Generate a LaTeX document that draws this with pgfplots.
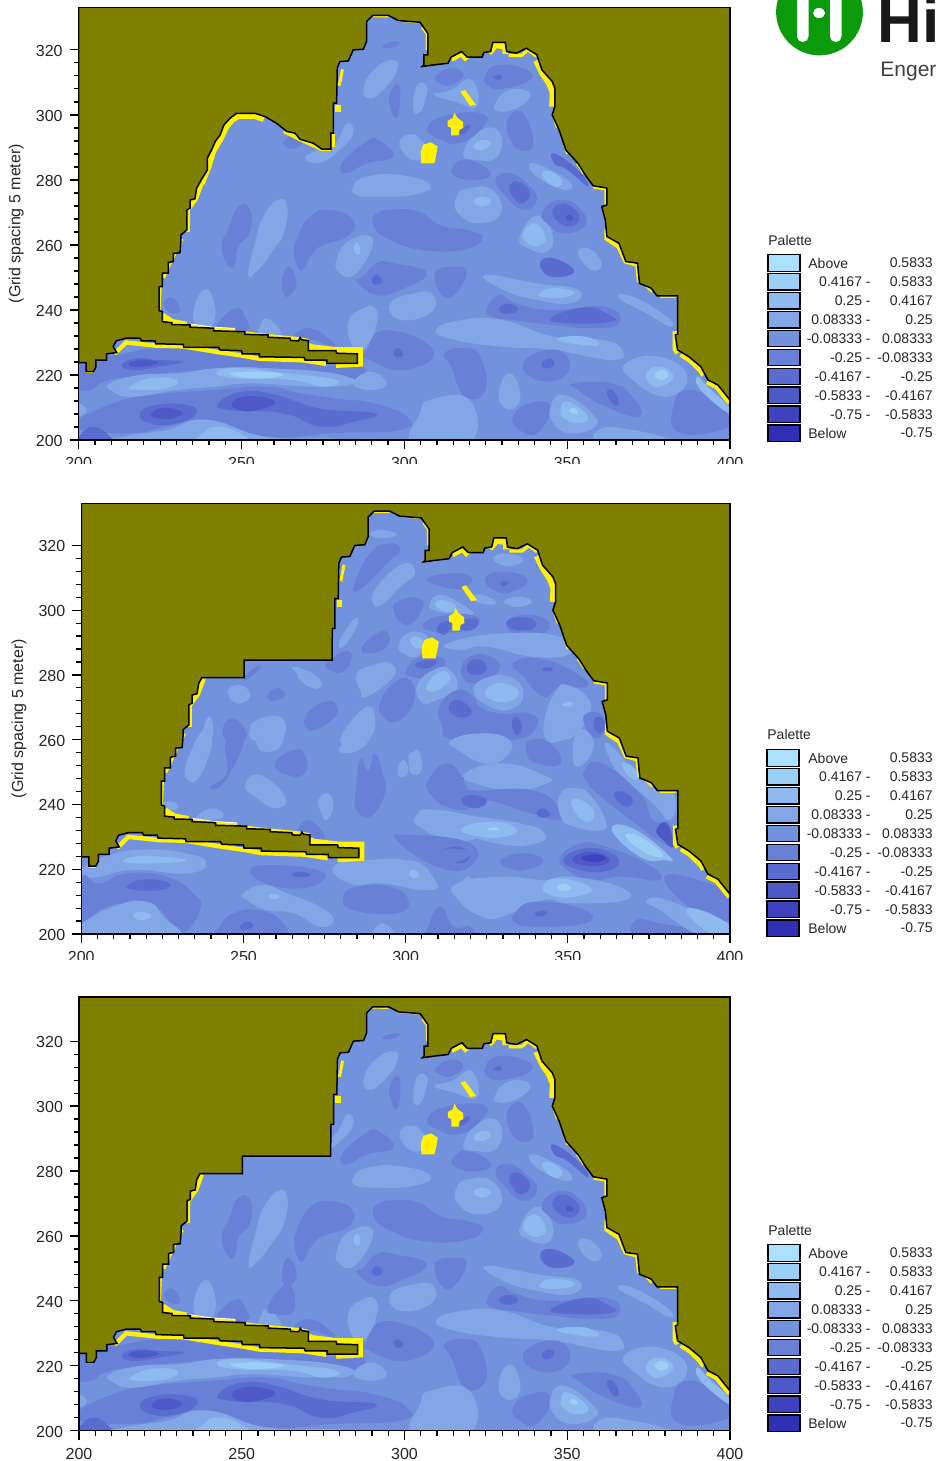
\documentclass[border=0pt]{standalone}
\usepackage{fontspec}
\setmainfont{Liberation Sans}
\usepackage{pgfplots}
\pgfplotsset{compat=1.18}

\definecolor{c0}{HTML}{ABE0FF}
\definecolor{c1}{HTML}{9CCFF6}
\definecolor{c2}{HTML}{8FBAF0}
\definecolor{c3}{HTML}{83A6E6}
\definecolor{c4}{HTML}{7392DE}
\definecolor{c5}{HTML}{6880D6}
\definecolor{c6}{HTML}{5A6CCF}
\definecolor{c7}{HTML}{4E59C8}
\definecolor{c8}{HTML}{3F42BE}
\definecolor{c9}{HTML}{3030B4}
\definecolor{land}{HTML}{808000}
\definecolor{logogreen}{HTML}{0A9A0A}

\newcommand{\blob}[2]{\addplot[draw=none,fill=#1,smooth cycle,tension=0.85,forget plot] coordinates {#2};}
\newcommand{\spot}[1]{\addplot[draw=none,fill=yellow,forget plot] coordinates {#1};}
\newcommand{\ylw}[2]{\addplot[yellow,line width=#1pt,forget plot] coordinates {#2};}

% coast line, the argument is the north-west stretch that differs between panels
\newcommand{\coast}[1]{\addplot[fill=land,draw=black,line width=0.75pt,forget plot] coordinates {
 (200,223.8)(202.3,223.8)(202.3,221)(204.5,221)(205.3,222.5)(205.3,224.6)(208.6,224.6)(208.6,226.5)(211.7,226.9)(210.6,228.7)(211.5,230.5)(214.5,231.3)(218.8,231.3)(219.3,230.5)(223.4,230.5)(223.7,229.6)(232.1,229.4)(232.3,228.5)(242.9,228.5)(243.4,227.7)(250,227.5)(250.2,226.5)(255.5,226.5)(255.5,225.6)(269.2,225.4)(269.5,224.6)(276.2,224.6)(276.2,223.6)(285.6,223.6)(285.6,226.5)(279.2,226.7)(279,227.5)(270.5,227.5)(270.5,230.6)(268.5,230.8)(268,231.5)(267.5,230.5)(265.1,230.6)(264.9,231.3)(258.2,231.6)(258.2,232.3)(251,232.5)(251,233.3)(241.4,233.6)(241.4,234.4)(234.2,234.7)(234.2,235.4)(228.6,235.5)(228.6,236.1)(225.7,236.4)(225.7,239.5)(224.7,239.8)(224.7,247.2)(225.7,247.2)(225.7,251.3)(227.5,251.3)(227.5,254.6)(229.1,254.9)(229.1,257.4)(231.1,257.6)(231.4,261.5)(231.4,263.1)(233.2,264.6)(233.2,270.8)(234.2,271.3)(234.2,273.8)(235.7,274.2)(236.2,277.4)
 #1
 (277.4,294.4)(278.2,294.4)(278.2,303.6)(279.2,303.6)(279.4,314.4)(280.2,316.4)(282.8,316.6)(284.3,320)(287.4,320.2)(288.4,322.6)(288.4,328.7)(290.3,330.6)(295.1,330.6)(298.2,329)(304.8,328.5)(307.2,325.1)(307.2,318.5)(306,318.5)(306,315.4)(305.5,314.9)(309.2,315.4)(313.4,315.9)(314.4,317.8)(317.6,319.5)(319.3,317.8)(323.9,317.8)(324.4,319.2)(326.5,319.5)(327.2,322.3)(331,322.3)(331.4,319.5)(334.4,319)(337.5,320.5)(340.7,318.5)(342.2,313.9)(345.4,310.3)(346.2,308.2)(346.2,302.6)(345.4,300)(347.5,295.4)(349.6,289.2)(353.3,285.1)(355.9,281)(358,278.2)(362.2,277.5)(362.2,272.3)(360.6,271.8)(361.7,267.7)(362.2,262.6)(365.9,260.5)(368,254.9)(371.6,254.4)(372.2,248.2)(375.8,246.7)(377.6,244.3)(383.9,244.3)(383.9,232.6)(383.2,232.3)(383.9,227.7)(387.4,225.6)(391,222.6)(393.2,218.5)(396.3,216.9)(400,212.3)
 (400,334)(200,334)(200,223.8)};}

\newcommand{\nwcurve}{(237.8,280.3)(239.5,283)(239.5,286.7)(240.8,289.2)(241.9,291.8)(243.4,293.8)(244.6,296.9)(246.5,299)(248.5,300.5)(254.1,300.5)(257.2,299.5)(260.8,297.4)(263.9,294.9)(266.4,294.4)(268,292.5)(272,291.3)(274.6,289.5)(277.4,289.5)}
\newcommand{\nwstep}{(237.2,279.2)(250.2,279.2)(250.2,284.6)(277.3,284.6)}

% yellow strips along the coast, half hidden by the land drawn afterwards
\newcommand{\yellowcommon}{
 \ylw{2.5}{(231.5,262)(229,257)(227.6,254)(225.8,250)}
 \ylw{1.5}{(225,247)(224.7,240)}
 \ylw{4}{(225.5,238)(228.6,236)(233,235.2)}
 \addplot[white,line width=2.8pt,forget plot] coordinates {(234,235)(241,234)(248,233.6)};
 \ylw{2}{(234.2,235)(241,234)(248,233.6)}
 \ylw{2}{(251,232.8)(258,232)(268,231)(270.5,230.5)}
 \ylw{3.4}{(270.5,229)(271.5,228.4)(279.2,227.5)(286.2,227.5)(286.2,223.6)(279,223.2)}
 \ylw{2.2}{(211,226.5)(214.5,230)(224,229)(232,228.8)(243,227)(250,226)(255.5,225)(269,224.5)(276,223.4)}
 \ylw{1.5}{(202.3,221)(204.5,221)}
 \ylw{3}{(233.2,264)(233.2,270.8)(235.7,274.2)(237.5,279)}
 \spot{(278.7,301)(280.4,301)(280.4,303.1)(278.7,303.1)}
 \ylw{1.5}{(281,314)(280,309)}
 \ylw{1.5}{(290,330.5)(295,330.4)}
 \ylw{1}{(298,329)(304,328.5)}
 \ylw{1.5}{(305.5,327)(307,325)(307,320)}
 \ylw{3}{(314.4,317.2)(317.6,319)(319.3,317)}
 \ylw{3}{(326,319)(328,321.5)(331,321)(331,318.8)}
 \ylw{1.6}{(332,318.3)(336,318.3)(338,320)(340.5,318)}
 \ylw{5}{(341,317)(343,313)(345,310)(346.2,307)(346,302.5)}
 \ylw{1.5}{(346,299)(347,296)}
 \ylw{1}{(349,291)(350,288)}
 \ylw{1}{(353,285)(355,282)}
 \ylw{2}{(358,278)(362,277.3)(362,272.5)}
 \ylw{2.5}{(362.2,265)(362.2,262)(365.9,259.5)(368,255)(371.6,254)(372.2,248.5)}
 \ylw{1}{(374,247.5)(376,245.5)}
 \ylw{1}{(378.5,244)(383.5,244)}
 \ylw{3}{(383.3,233.5)(383.3,228)(384,226.8)}
 \ylw{3}{(385,226.5)(388,224.5)(391,221.5)(392,220)}
 \ylw{3}{(393,218)(396,216.5)(400,211.5)}
 \spot{(317.2,307.2)(318.6,307.7)(322,303.1)(320.2,302.8)}
 \spot{(313.3,298.2)(314.8,299)(315.4,300.7)(316.2,299.2)(318,297.8)(318.1,296)(317,295.5)(316.6,293.7)(314.4,293.7)(314.4,296)(313.3,296.5)}
 \spot{(305,288.7)(305.8,290.8)(308.1,291.6)(310.2,290.3)(309.7,287.2)(309.2,285.1)(305.2,285.1)}
}
\newcommand{\yellownw}{
 \ylw{4}{(237.5,279)(239.5,284)(241,289)(243.4,293)(245,296.5)(247,298.8)(249,300)(254,300)(257,299)}
 \ylw{2}{(263,295)(268,292.5)(274.6,289.5)(277.4,289.5)}
 \ylw{2}{(278,290)(278,294)}
}

% contour bands of panels one and three
\newcommand{\bandsA}{
 \blob{c5}{(200,223.6)(211.7,226.2)(227,228.2)(247.5,226.7)(278.2,222.6)(287.4,222.6)(282.3,218.5)(257.7,222.1)(237.3,221.5)(216.8,219.5)(209.6,218.5)(200.4,215.4)}
 \blob{c5}{(200,220.5)(204.5,220)(205.5,216.4)(200.4,215.4)}
 \blob{c5}{(200,206.2)(210.6,211.3)(221.9,213.8)(241.4,215.4)(257.7,216.4)(268,214.4)(278.2,212.8)(290.5,211.3)(300.7,207.2)(298.7,203.1)(278.2,202.1)(257.7,201)(240.3,206.2)(227,204.1)(216.8,202.1)(200.4,203.1)}
 \blob{c3}{(209.6,217.4)(218.8,220)(231.1,220.5)(242.4,222.1)(257.7,222.1)(278.2,220.5)(284.3,217.4)(273.1,216.4)(252.6,217.4)(242.4,216.4)(230.1,215.4)(216.8,213.3)(210.6,214.9)}
 \blob{c2}{(215.8,216.4)(221.9,219)(230.1,218.5)(227,215.9)(217.8,215.4)}
 \blob{c2}{(242.4,221)(249.5,222.1)(263.9,220.5)(279.2,218.5)(275.1,216.4)(264.9,218.5)(247.5,219)}
 \blob{c1}{(246.5,220.5)(255.7,221)(262.8,220)(253.6,219)}
 \blob{c6}{(213.2,223.1)(217.8,225.1)(224,224.6)(232.1,224.1)(225,222.6)(216.8,221.5)}
 \blob{c7}{(215.3,223.4)(218.8,224.6)(224.5,223.8)(218.8,222.4)}
 \blob{c6}{(218.8,208.2)(224,210.8)(233.2,210.8)(236.2,208.2)(230.1,205.1)(221.9,205.1)}
 \blob{c7}{(222.4,208.2)(226,209.9)(231.6,208.7)(229.1,206.7)(224,206.7)}
 \blob{c6}{(242.9,211.3)(250.6,214.9)(260.8,213.8)(274.1,209.7)(291,208.2)(284.3,205.6)(274.1,204.1)(262.8,208.2)(246.5,209.2)}
 \blob{c7}{(247,211.3)(252.1,213.5)(260.3,211.8)(254.7,209.2)(249.5,209.2)}
 \blob{c3}{(213.7,201)(227,203.1)(239.3,206.2)(257.7,201)(278.2,200.5)(278.2,199)(213.7,199)}
 \blob{c2}{(238.3,202.1)(242.4,204.1)(249.5,202.1)(250.6,199.5)(237.3,199.5)}
 \blob{c6}{(200,201)(204.5,204.1)(209.6,201)(209.6,199)(199,199)}
 \blob{c3}{(199,211.3)(202.5,209.2)(199,207.2)}
 \blob{c3}{(284.3,217.4)(289.5,221)(294.6,217.4)(289.5,215.4)}
 \blob{c3}{(304.8,208.2)(307.9,212.3)(320,212.3)(320,199)(302.8,199)}
 % middle of the basin
 \blob{c3}{(287.4,307.7)(290.5,313.8)(296.6,316.9)(297.6,313.3)(293.5,307.7)(289.5,305.1)}
 \blob{c3}{(278.7,291.3)(282.3,297.4)(284.3,294.4)(280.2,289.2)(274.1,285.3)(269.5,286.7)(273.1,289.2)}
 \blob{c3}{(298.7,292.3)(302.8,294)(306,291.3)(309,289)(304,286)(300,288)}
 \blob{c3}{(284.3,278)(288.4,281)(298.7,281.5)(307.9,278.5)(302.8,275.4)(291.5,274.9)(285.3,275.4)}
 \blob{c3}{(302.8,301.5)(303.8,308.9)(306.9,309)(306.4,304.6)(304.9,301)}
 \blob{c3}{(309.2,306.2)(314.4,307.7)(320.7,310.8)(322.3,302.6)(315.5,304.1)}
 \blob{c3}{(328,303.6)(332.3,307.7)(338.6,306.7)(335.4,302.6)(329.1,301)}
 \blob{c5}{(291.5,269.7)(298.7,271)(304.9,270)(311.3,266)(319.7,264.5)(324,262)(318,258.5)(305,258.5)(296,261.5)(291,265)}
 \blob{c3}{(318.1,288.2)(322.8,294.9)(329.1,294.9)(328.6,287.2)(321.8,286.2)}
 \blob{c2}{(321.2,290.3)(323.9,292.3)(326.5,291.3)(323.9,289.2)}
 \blob{c3}{(338.6,285.1)(344.9,283.1)(351.2,279)(349.1,277)(340.7,281)}
 \blob{c2}{(342.2,281.6)(344.9,282.6)(348.5,279.5)(345.9,278)}
 \blob{c6}{(345.9,288.2)(353.3,283.1)(356.4,278)(350,283.1)(346,285.1)}
 \blob{c3}{(316,274.9)(319.7,277.4)(327,276.9)(329.6,269.8)(322.8,266.7)(316.5,269.8)}
 \blob{c2}{(321.2,273.4)(323.9,274.9)(326.5,273.4)(323.9,271.8)}
 \blob{c3}{(335.4,262.5)(340.7,269)(345.4,263.5)(344,258)(338,259)}
 \blob{c2}{(336.5,263.6)(340.1,266.7)(343.3,262.6)(341.7,260)(338,260.5)}
 \blob{c5}{(293.5,321.5)(297.6,322.6)(298.2,321.5)(294.6,320.5)}
 \blob{c5}{(309.7,311.8)(314.4,314.4)(318.1,312.3)(314.4,309.2)(310.7,309.8)}
 \blob{c5}{(295.6,306.7)(298.1,309.2)(298.7,304.6)(297.6,299)(295.6,302.6)}
 \blob{c5}{(280.8,285.1)(288.4,291.8)(292,292.3)(296.6,287.2)(288.4,285.1)(282.3,282)}
 \blob{c5}{(263.4,292.3)(267.5,294.4)(269,291.8)(266,289.7)(263.4,290.3)}
 \blob{c5}{(307,295.9)(313.4,300)(324.9,300)(322.3,294.4)(316.5,291.3)(311.3,292.3)}
 \blob{c6}{(317.6,295.9)(320.2,296.9)(318.6,294.4)(316.5,294.4)}
 \blob{c5}{(332.3,299.5)(336.5,300.5)(339.6,291.3)(335.4,289.2)(331.7,294.4)}
 \blob{c5}{(324.9,312.3)(329.1,315.4)(337.5,313.9)(338.6,310.8)(331.2,308.2)(326,308.7)}
 \blob{c6}{(327.5,311.8)(329.6,312.3)(329.6,311)(327.8,311.1)}
 \blob{c5}{(314.9,284.1)(319.7,286.2)(326.5,282.1)(322.3,280)(316,281)}
 \blob{c5}{(328,280)(332.3,282.1)(338,278.5)(340.7,273.9)(336.5,270.8)(331.2,274.9)}
 \blob{c6}{(332.3,278)(334.9,279.5)(338.6,275.9)(336,272.8)(333.3,274.9)}
 \blob{c5}{(342.2,269.8)(348,273.9)(354.3,270.8)(355.4,265.7)(349,263.6)(344.9,265.7)}
 \blob{c6}{(345.4,269.8)(349,272.8)(353.8,268.7)(350.1,265.7)}
 \blob{c7}{(349.6,268.7)(351.2,269.2)(351.7,267.7)(350.1,267.7)}
 \blob{c5}{(267.5,252.8)(266.2,257.4)(267,262)(271,268.7)(277.2,270.8)(284.3,267.7)(282.3,262.6)(275,260)(271.5,257)(269.2,252.8)}
 \blob{c5}{(243.9,259.5)(246,253.5)(248,254.2)(249,259.5)(252.6,264)(252.6,271)(249,271.8)(246,265)}
 \blob{c3}{(252.1,251.3)(254.7,252)(259.8,258.5)(263,264)(264,272)(261,273.8)(256.7,268.7)(254.5,262)}
 \blob{c3}{(279.2,255.4)(283.3,261.5)(290.4,261.5)(285.3,251.3)(280.2,251.3)}
 \blob{c2}{(284.4,259.5)(285.9,260.5)(286.4,257.4)(284.9,257.4)}
 \blob{c3}{(295.6,242)(302.8,245.1)(308.9,244.6)(307.9,239)(298.7,237)}
 \blob{c3}{(282.8,236.4)(287.4,240.5)(291,240.5)(291.5,235.9)(288.4,228.7)(284.3,228.7)}
 \blob{c3}{(235.2,239)(238.3,246.2)(241.4,243.1)(241.4,235.9)(237.3,234.4)}
 \blob{c5}{(226.5,243)(229,243.6)(231.1,240)(229,239)(226.5,240.5)}
 \blob{c5}{(243.4,236.9)(248.5,240.5)(251,238)(251.6,233.9)(243.4,234.4)}
 \blob{c3}{(255.7,234.9)(257.7,237.4)(261.8,233.8)(260.8,232.3)(255.7,232.8)}
 \blob{c5}{(266,231.8)(271,234.4)(277.2,230.8)(278.2,228.7)(272,230.8)}
 \blob{c5}{(287.4,250.3)(291.5,254.4)(296.6,254.4)(306.9,251.3)(298.7,246.2)(291.5,244.6)(285.4,248.7)}
 \blob{c6}{(290,249.2)(291.5,250.8)(293.1,248.7)(291,247.7)}
 \blob{c5}{(262.3,248.7)(264.4,253.3)(266.9,248.2)(264.9,244.6)(263.3,244.6)}
 \blob{c5}{(288.4,227.7)(294.6,233.8)(308.9,227.7)(300.7,221.5)(289.4,224.6)}
 \blob{c6}{(296.6,227.2)(298.2,228.2)(299.7,226.2)(297.6,225.6)}
 % east part
 \blob{c3}{(353.3,257.4)(356.4,259)(360.6,254.4)(357.5,252.3)}
 \blob{c6}{(341.7,254.4)(345.9,255.9)(352.2,251.8)(344.9,250.3)}
 \blob{c3}{(324.9,250.8)(340.7,248.2)(353.3,246.2)(351.2,242.1)(340.7,243.1)(330.2,246.2)}
 \blob{c2}{(341.7,245.1)(345.4,246.7)(352.2,245.6)(349,243.9)(342.8,243.9)}
 \blob{c3}{(365.9,243.6)(370,244.1)(380.5,238)(381.6,234.9)(374.3,239)}
 \blob{c5}{(325.4,240.5)(329.1,244.6)(334.4,242.1)(344.9,240)(361.7,241)(365.9,235.9)(357.5,234.4)(345.9,235.4)(333.3,236.9)(327,238)}
 \blob{c6}{(329.1,240.5)(332.3,241.9)(334.9,240)(331.2,238.8)}
 \blob{c6}{(344.9,237.4)(355.4,240.8)(362.7,238.5)(363.8,236.4)(351.2,235.9)}
 \blob{c5}{(309.2,250.8)(314.4,253.3)(319.1,251.3)(313.4,243.6)}
 \blob{c3}{(309.7,233.9)(317.6,236.9)(330.2,236.9)(345.9,231.8)(360.6,230.8)(366.9,227.7)(363.8,224.6)(345.9,227.7)(330.2,228.7)(315.5,230.8)}
 \blob{c2}{(347,231.3)(355.4,231.8)(359.6,229.2)(351.2,229.7)}
 \blob{c3}{(368,223.6)(378.5,225.6)(386.9,219.5)(380.5,213.3)(370,218.5)}
 \blob{c2}{(374.3,220.5)(378.5,222.6)(382.6,219.5)(378.5,216.4)(375.3,217.4)}
 \blob{c1}{(376.9,220)(379,221.5)(381.1,220)(379,218.5)}
 \blob{c5}{(336.5,223.6)(343.8,227.7)(350.1,225.6)(349,219.5)(340.7,218.5)}
 \blob{c6}{(342.2,223.6)(344.9,225.1)(345.9,223.1)(343.3,222)}
 \blob{c5}{(312.3,226.7)(318.6,228.2)(323.3,225.6)(324.9,215.4)(318.6,213.3)(314.4,222.6)}
 \blob{c3}{(329.1,215.4)(332.3,220.5)(335.4,215.4)(334.4,210.3)(330.2,210.3)}
 \blob{c5}{(333.3,207.2)(338.6,211.3)(344.9,210.3)(340.7,202.1)(335.4,203.1)}
 \blob{c5}{(352.2,217.4)(363.8,217.4)(370,213.3)(372.2,207.2)(361.7,210.3)(353.3,215.4)}
 \blob{c6}{(362.2,214.4)(363.8,215.4)(365.9,211.8)(364.3,210.8)}
 \blob{c3}{(344.9,210.3)(349,213.9)(357.5,208.2)(358.5,204.1)(351.2,202.1)(345.9,205.1)}
 \blob{c2}{(348,209.2)(350.1,211.8)(356.4,207.2)(353.3,205.1)(349,206.7)}
 \blob{c1}{(350.6,209.2)(352.2,209.8)(353.3,208.2)(351.7,208.2)}
 \blob{c3}{(360.6,203.6)(370,203.1)(380.5,200.5)(380,199)(360.6,199)}
 \blob{c5}{(382.6,210.3)(387.9,215.4)(399.5,209.2)(400,204.1)(384.8,202.1)}
 \blob{c2}{(390,219.5)(393.2,216.4)(399.5,210.3)(399.5,208.2)(391,215.4)}
}

% contour bands of panel two
\newcommand{\bandsB}{
 \blob{c3}{(200.1,219.8)(205.7,223.4)(218,226)(232.4,224.9)(238.6,221.8)(232.4,218.7)(216,219.8)(205.7,217.7)(200.1,217.7)}
 \blob{c2}{(212.9,222.3)(219.1,224.1)(232.5,222.8)(222.2,221.8)}
 \blob{c5}{(200.1,217.2)(205.7,215.6)(213.9,218.7)(226.3,217.7)(234.5,212.6)(236.6,207.4)(230.4,200.2)(224.3,207.4)(216,209.5)(205.7,207.4)(200.1,201)}
 \blob{c6}{(214.5,215.1)(220.1,216.9)(227.3,215.6)(224.3,213.6)(216,213.7)}
 \blob{c3}{(199,202.3)(209.9,208.4)(220.1,210)(225.2,205.4)(228.4,199)(199,199)}
 \blob{c2}{(216,205.9)(218.6,206.9)(221.7,205.4)(218.1,204.3)}
 \blob{c5}{(252,219.8)(259.2,221.3)(272.6,219.8)(274.6,216.7)(267.4,214.1)(257.1,215.6)}
 \blob{c6}{(264.9,218.7)(268.4,219.2)(270.5,218)(266.4,217.7)}
 \blob{c3}{(250,212.6)(256.1,215.1)(263.3,212.6)(273.6,208.4)(277.7,204.3)(273.6,202.3)(265.4,206.4)(257.1,207.4)(250.9,210.6)}
 \blob{c2}{(257.6,211.7)(259.7,212.5)(261.2,211.5)(259.2,210.7)}
 \blob{c5}{(242.8,202.3)(246.9,206.4)(254.1,207.4)(261.3,204.3)(261.3,199)(242.8,199)}
 \blob{c6}{(248.9,202.3)(251.4,203.8)(252.9,202.3)(249.9,201.3)}
 \blob{c3}{(277.7,220.8)(288,222.8)(301.3,222.3)(309.6,215.6)(305.5,213.6)(293.1,215.6)(282.8,215.6)}
 \blob{c2}{(301.3,217.5)(302.8,218.5)(304.4,217)(302.4,216)}
 \blob{c5}{(280.8,211.5)(284.9,214.6)(295.2,214.6)(300.8,210.5)(297.2,206.4)(283.9,207.4)}
 \blob{c3}{(289.8,199)(292.8,203.3)(296.9,199)}
 \blob{c5}{(306.5,201.2)(310.6,208.4)(314.7,202.3)(319.8,202.3)(319.8,199)(307,199)}
 \blob{c3}{(315.7,213.6)(319.8,217.7)(319.8,209.5)(316.8,211.5)}
 \blob{c3}{(232,250.6)(233.5,255.8)(237.6,263)(240.2,261)(239.2,254.7)(235.6,247.5)(232.5,248)}
 \blob{c5}{(239.7,245.5)(244.8,249.6)(244.3,257.8)(245.8,263)(250,263)(250,258.9)(246.9,251.7)(242.8,245.5)}
 \blob{c3}{(253.5,263)(261.3,263)(261.3,257.8)(256.2,256.3)(254.1,258.9)}
 \blob{c3}{(279.8,257.8)(287,263)(290,263)(287,257.8)(281.8,255.8)}
 \blob{c5}{(259.7,252.7)(265.4,256.8)(269,255.3)(269,249.6)(263.3,249.1)}
 \blob{c3}{(250.5,246)(255.1,249.1)(262.8,242.4)(260.2,238.8)(254.1,241.9)}
 \blob{c3}{(273.1,241.4)(276.2,243.4)(277.7,239.3)(275.6,235.2)(274.1,237.2)}
 \blob{c5}{(284.4,241.4)(285.9,253.7)(288.5,250.6)(290.5,255.8)(292.6,250.6)(293.6,243.4)(289,236.2)(284.9,238.3)}
 \blob{c3}{(297.7,251.7)(299.7,253.7)(300.7,249.6)(298.1,248.6)}
 \blob{c3}{(301.3,253.7)(303.8,256.8)(304.9,250.6)(301.8,249.6)}
 \blob{c5}{(307,247.5)(312.6,252.7)(317.8,247.5)(319.8,239.3)(312.6,239.3)(307.5,243.4)}
 \blob{c3}{(303.4,236.2)(308.5,238.3)(319.8,233.1)(319.8,228.9)(307.5,231.1)}
 \blob{c5}{(297.2,229)(301.3,230.6)(319.8,228)(319.8,220.8)(309.6,220.8)}
 \blob{c6}{(310,224.4)(315.7,227)(319.8,223.9)(315.7,221.8)}
 \blob{c5}{(266.9,232.1)(270,235.2)(274.6,231.1)(273.6,229)(268,230)}
 \blob{c3}{(225.8,240.9)(229.4,240.3)(229,238.3)(225.8,239.3)}
 \blob{c3}{(235.6,236.2)(240.7,238.8)(243.8,236.2)(238.6,235.2)}
 \blob{c3}{(245.3,275.3)(248.9,276.9)(252,274.3)(250.5,271.7)(246.9,271.7)}
 \blob{c5}{(257.7,274.3)(260.7,276)(262.8,273.8)(260.2,272.2)(258,272.2)}
 \blob{c3}{(265.4,282.5)(270.5,280.5)(273.6,276.4)(270.5,276.4)(266.4,280.5)}
 \blob{c5}{(250.5,279.5)(254.1,282.6)(255,282)(251,278.5)}
 \blob{c3}{(252,263)(254.1,266)(261.3,267.1)(262.8,262)(259.2,259.9)(253,259.9)}
 \blob{c5}{(243.8,264)(246.9,266.6)(250.5,263)(250,259.9)(244.8,259.9)}
 \blob{c5}{(269,267.1)(273.6,271.2)(278.2,271.2)(277.7,268.1)(272.6,264)(270,263)}
 \blob{c3}{(237.6,262)(239.2,267.1)(240.7,264)(239.7,259.9)}
 % north
 \blob{c5}{(283.9,307.2)(289,317.5)(295.2,320.6)(298.3,318.6)(294.2,314.4)(287,307.2)}
 \blob{c3}{(289,323.7)(293.1,324.7)(297.2,323.2)(292.1,322.2)}
 \blob{c3}{(290,302.1)(291.1,307.2)(299.3,314.4)(302.9,311.4)(298.3,307.2)(293.1,302.1)}
 \blob{c5}{(296.2,300)(298.3,303.1)(304.4,303.6)(305,300)(300.3,295.4)}
 \blob{c5}{(306.5,309.8)(315.7,311.4)(320.4,309.8)(317.8,306.7)(311.6,307.2)}
 \blob{c5}{(324.5,309.8)(330.1,311.9)(337.3,309.8)(334.2,306.2)(328.1,305.7)}
 \blob{c6}{(329.1,308.3)(330.6,309)(331.7,308.3)(330.1,307.4)}
 \blob{c3}{(327,316)(331.2,317.5)(336.3,315.5)(331.2,313.6)}
 \blob{c3}{(320.9,304.2)(324,304.7)(328.1,302.1)(322.9,302.1)}
 \blob{c3}{(330.6,303.1)(335.3,304.2)(338.9,302.6)(335.3,301)(331.7,301.6)}
 \blob{c3}{(307.5,302.1)(310.6,304.7)(316.8,302.1)(320.9,298.5)(313.7,299)(308.5,300)}
 \blob{c2}{(309,301.6)(311.6,303.1)(315.7,301)(312.7,299.5)}
 \blob{c5}{(305.5,295.9)(312.7,298.5)(321.9,298)(321.4,294.4)(315.7,293.3)(308.5,293.3)}
 \blob{c6}{(309.6,294.4)(311.6,296.4)(314.2,295.9)(312.7,292.8)(310.6,292.8)}
 \blob{c6}{(316.8,296.4)(321.4,297.4)(321.9,294.9)(317.8,293.9)}
 \blob{c5}{(331.2,296.4)(336.3,298.5)(343.5,297)(342.5,292.8)(334.2,292.3)}
 \blob{c6}{(331,295.9)(334.2,297.8)(339.4,297)(339.4,294.4)(334.2,293.9)}
 \blob{c3}{(279.8,290.8)(284.4,297.5)(284.9,294.9)(280.8,288.7)}
 \blob{c5}{(286.4,288.2)(291.1,292.8)(294.7,292.8)(294.2,288.7)(289,286.7)}
 \blob{c3}{(297.8,288.7)(300.3,292.8)(305.5,292.8)(307,289.7)(303.4,285.6)(299.3,286.7)}
 \blob{c2}{(301.4,290.8)(303.4,291.8)(306,289.7)(303.4,288.2)}
 \blob{c3}{(312.7,289.7)(329.1,292.8)(347.6,291.8)(350.7,286.7)(339.4,285.6)(325,288.7)(316.8,287.7)}
 \blob{c5}{(300.3,281.5)(303.4,285.1)(310.6,285.6)(311.6,282.5)(306.5,279.5)(301.4,279.5)}
 \blob{c6}{(302.9,283.1)(306.5,284.6)(309.6,284.1)(306.5,282)}
 \blob{c3}{(303.4,276.4)(308.5,281.5)(313.7,281.5)(315.7,275.3)(309.6,272.3)(305.5,271.2)}
 \blob{c2}{(306.5,276.9)(310.6,281)(313.7,279.5)(311.6,276.4)(308,274.8)}
 \blob{c5}{(275.6,283.6)(280.8,287.2)(283.4,285.6)(280.8,281)(276.7,281.5)}
 \blob{c3}{(284.9,280.5)(290,283)(295.2,283.6)(296.2,279.5)(288,273.3)(286,275.3)}
 \blob{c3}{(267.4,280.5)(270.5,281)(274.1,277.4)(271.5,275.9)(267.4,278.4)}
 \blob{c5}{(292.1,271.2)(296.2,277.4)(301.4,278.4)(302.4,271.2)(297.2,265.6)(293.1,267.1)}
 \blob{c5}{(269,266)(274.6,271.2)(278.2,271.2)(278.2,267.1)(271.5,263)}
 \blob{c3}{(279.8,259.9)(288,270.2)(290.6,264)(287,259.9)}
 \blob{c5}{(310.4,270.2)(315.7,275.3)(320.9,273.3)(322.9,270.2)(329.1,268.1)(338.4,268.1)(340.4,264)(333.2,259.9)(314.7,259.9)(311.1,265)}
 \blob{c6}{(313.2,269.7)(316.2,272.3)(320.4,268.6)(316.8,266.9)}
 \blob{c6}{(332.7,265)(334.2,267.1)(335.8,264)(334.2,261.4)}
 \blob{c5}{(317.3,282.5)(319.8,285.6)(325,286.1)(329.1,282.5)(325,278.4)(320.9,277.4)(317.8,279)}
 \blob{c6}{(318.8,282.5)(321.4,284.8)(324.5,283.6)(324.5,281)(320.9,280)}
 \blob{c3}{(320.9,275.3)(326,279.5)(333.2,278.9)(336.3,274.3)(333.2,269.7)(326,270.2)}
 \blob{c2}{(324.5,274.8)(328.1,277.4)(333.2,276.4)(334.7,273.8)(331.2,271.7)(326.5,272.3)}
 \blob{c5}{(333.2,283.6)(341.4,285.1)(352.7,280.5)(355.8,276.4)(347.6,276.4)(342.5,273.3)(336.3,279.5)}
 \blob{c6}{(342.5,282.2)(345,282.2)(345,281.3)(342.5,281.3)}
 \blob{c3}{(343,267.1)(346.6,275.3)(349.7,276.9)(355.8,273.3)(356.8,268.1)(352.7,262)(348.6,259.9)(343.5,259.9)}
 \blob{c2}{(348.6,271.2)(351.2,271.7)(351.2,270.4)(348.6,270.4)}
 \blob{c5}{(354.8,267.1)(359.9,268.1)(361.5,263)(357.9,260.9)}
 \blob{c6}{(357.9,265.6)(359.9,267.1)(361.5,264)(359.4,262)}
 % south east
 \blob{c3}{(314.1,259.9)(323.6,262)(332,259.9)(331,254.8)(324.6,252.7)(316.2,256.8)}
 \blob{c3}{(351.5,255.8)(353.1,263)(357.3,260.9)(357.3,255.8)(353.1,251.7)}
 \blob{c5}{(338.3,259.9)(344.6,258.9)(347.8,252.7)(340.4,252.7)(337.3,255.8)}
 \blob{c3}{(300.9,254.8)(303,255.8)(304.1,251.7)(302,249.6)}
 \blob{c3}{(318.3,249.6)(329.9,252.7)(342.5,249.1)(343.6,246.5)(333,244.5)(321.5,246.5)}
 \blob{c5}{(307.2,245.5)(317.2,248.6)(319.3,244.5)(338.3,244.5)(347.3,239.3)(347.8,235.2)(338.3,237.3)(324.6,241.4)(312,241.4)}
 \blob{c6}{(317.2,241.4)(320.9,242.9)(325.1,240.9)(320.9,238.8)}
 \blob{c6}{(340.4,237.3)(342.5,238.8)(344.6,236.7)(342,236)}
 \blob{c3}{(303,236.2)(308.8,238.3)(322.5,236.2)(335.2,234.2)(342.5,231.6)(340.4,228)(327.8,228)(312,233.1)(304.6,233.1)}
 \blob{c2}{(317.2,232.6)(326.7,234.7)(334.1,232.6)(331,230.1)(322.5,230.1)}
 \blob{c1}{(325.7,232.6)(328.3,232.9)(328.3,232.1)(325.7,232.1)}
 \blob{c3}{(361.5,258.9)(365.7,255.8)(371,248.6)(374.2,247)(382.6,243.4)(381.5,235.2)(376.3,240.3)(366.8,248.6)(363.6,252.7)}
 \blob{c2}{(366.8,252.7)(370,251.7)(372.1,248.1)(368.9,248.6)}
 \blob{c5}{(355.2,250.6)(360.5,252.7)(372.1,243.4)(376.3,235.2)(381.5,234.2)(382.6,227)(376.3,230)(372.1,233.1)(361.5,241.4)(356.2,246.5)}
 \blob{c6}{(364.1,242.9)(366.8,244)(370,241.4)(367.8,239.3)}
 \blob{c7}{(377.3,232.1)(380.5,234.2)(382.6,227)(379.4,229)}
 \blob{c3}{(347.8,243.4)(353.1,245)(357.3,242.4)(361.5,235.2)(360.5,232.1)(352,233.1)(347.8,236.2)}
 \blob{c2}{(351,240.3)(354.1,241.4)(358.3,237.3)(355.2,234.7)}
 \blob{c2}{(363.6,232.1)(370,232.6)(381.5,223.9)(379.4,222.8)(372.1,223.9)}
 \blob{c1}{(367.8,230.1)(372.1,230.1)(379.4,224.4)(374.2,224.9)}
 \blob{c5}{(347.8,223.9)(354.1,228)(361.5,227)(374.2,221.8)(378.4,216.7)(366.8,217.7)(357.3,216.7)(349.9,219.8)}
 \blob{c6}{(348.9,223.4)(355.2,226.4)(362.6,225.4)(365.7,221.8)(360.5,219.2)(352,220.3)}
 \blob{c7}{(351.5,223.4)(356.8,225.4)(362.6,223.4)(360.5,221.3)(354.1,221.3)}
 \blob{c8}{(354.1,223.4)(358.3,224.6)(361.5,223.4)(358.3,222.3)}
 \blob{c5}{(309.9,224.9)(314.1,226.4)(319.9,224.9)(316.2,222.3)(312,222.3)}
 \blob{c5}{(329.4,222.8)(336.2,224.9)(342.5,222.8)(337.3,219.8)(332,220.3)}
 \blob{c3}{(315.7,215.6)(329.9,217.7)(342.5,216.7)(351,217.7)(365.7,214.6)(367.8,210.5)(351,209.5)(342.5,210.5)(329.9,205.4)(323.6,205.4)(316.2,210.5)}
 \blob{c2}{(342.5,215.1)(347.8,217.2)(357.3,214.1)(352,211.5)(344.6,212)}
 \blob{c1}{(346.8,214.6)(348.9,215.6)(351,214.1)(348.3,213.4)}
 \blob{c3}{(298.3,221.8)(304.6,221.8)(308.8,215.6)(304.6,213.6)(298.3,216.7)}
 \blob{c2}{(300.9,218.7)(302.5,219.8)(304.1,218.2)(302.5,217.2)}
 \blob{c5}{(333.6,206.4)(340.4,210)(355.2,207.4)(355.2,203.3)(340.4,202.3)(334.1,203.3)}
 \blob{c6}{(339.9,206.4)(342.5,207.2)(343.6,206.2)(341,205.4)}
 \blob{c5}{(371,204.3)(378.4,203.3)(390,200.2)(372.1,199)}
 \blob{c5}{(380,218)(395,215)(401,210)(401,204)(388,208)}
 \blob{c3}{(374.2,210)(380.5,210.5)(399.5,202.3)(402,204.3)(402,199)(391,199.5)(378.4,207.4)}
 \blob{c2}{(386.8,206.4)(391,207.4)(401,202)(401,199)(395,199.5)}
}

\newcommand{\palette}[3]{% x of the boxes, y of the title, y of the first row
 \node[anchor=west,inner sep=0pt,font=\fontsize{7}{7}\selectfont,text=black!85] at (#1,#2) {Palette};
 \foreach \i/\a/\b in {0//0.5833,1/0.4167 -/0.5833,2/0.25 -/0.4167,3/0.08333 -/0.25,4/-0.08333 -/0.08333,5/-0.25 -/-0.08333,6/-0.4167 -/-0.25,7/-0.5833 -/-0.4167,8/-0.75 -/-0.5833,9//-0.75}{
  \draw[black,line width=0.65pt,fill=c\i] (#1,{#3+18.9*\i-8.2}) rectangle ++(32,16.4);
  \node[anchor=east,inner sep=0pt,font=\fontsize{7}{7}\selectfont,text=black!85] at (871,{#3+18.9*\i}) {\a};
  \node[anchor=east,inner sep=0pt,font=\fontsize{7}{7}\selectfont,text=black!85] at (933,{#3+18.9*\i}) {\b};
 }
 \node[anchor=west,inner sep=0pt,font=\fontsize{7}{7}\selectfont,text=black!85] at (808,#3) {Above};
 \node[anchor=west,inner sep=0pt,font=\fontsize{7}{7}\selectfont,text=black!85] at (808,{#3+18.9*9}) {Below};
}

\pgfplotsset{panel/.style={
  scale only axis,
  xmin=200,xmax=400,ymin=200,
  xtick={200,250,...,400},ytick={200,220,...,320},
  minor x tick num=9,minor y tick num=4,
  xtick pos=bottom,ytick pos=left,
  tick align=outside,
  major tick length=4.5pt,minor tick length=2.5pt,
  every tick/.style={black,line width=0.6pt},
  axis line style={line width=0.75pt},
  axis on top,
  anchor=south west,
  axis background/.style={fill=c4},
  /pgf/number format/assume math mode=true,
  tick label style={font=\fontsize{8}{8}\selectfont,text=black!85},
  xticklabel style={yshift=-0.7pt},
  yticklabel style={yshift=-0.5pt},
  every axis y label/.style={at={(axis description cs:-0.096,0.5)},rotate=90,anchor=center,font=\fontsize{8}{8}\selectfont,text=black!85},
}}

\begin{document}
\begin{tikzpicture}[x=0.5pt,y=-0.5pt]
\path[use as bounding box,clip] (0,0) rectangle (936,1461);

\begin{axis}[panel,at={(39.35pt,-220pt)},width=325.65pt,height=216.35pt,ymax=333.1,ylabel={(Grid spacing 5 meter)}]
 \bandsA
 \yellowcommon
 \yellownw
 \coast{\nwcurve}
\end{axis}

\begin{axis}[panel,at={(40.65pt,-467pt)},width=324.35pt,height=215.35pt,ymax=333,ylabel={(Grid spacing 5 meter)}]
 \bandsB
 \yellowcommon
 \coast{\nwstep}
\end{axis}

\begin{axis}[panel,at={(39.5pt,-715.35pt)},width=325.5pt,height=216.85pt,ymax=333.6]
 \bandsA
 \blob{c5}{(258,238)(262,244)(265,245)(266,237)(260,236)}
 \yellowcommon
 \coast{\nwstep}
\end{axis}

% the tick labels of the two upper panels are cut off in the source
\fill[white] (40,464) rectangle (780,497);
\fill[white] (40,960) rectangle (780,990);

\palette{768}{240}{263}
\palette{767}{734}{758}
\palette{768}{1230}{1253}

% logo, cropped by the page
\fill[logogreen] (819.5,12) circle (21.7pt);
\fill[white,rounded corners=2.8pt] (797,-10) rectangle (808.5,42);
\fill[white,rounded corners=2.8pt] (830,-10) rectangle (841.5,42);
\fill[white] (819,13) ellipse (3pt and 2.5pt);
\node[anchor=base west,inner sep=0pt,font=\fontsize{31}{31}\selectfont\bfseries,text=black!90] at (877,43) {Hi};
\node[anchor=base west,inner sep=0pt,font=\fontsize{10.5}{11}\selectfont,text=black!75] at (880,76) {Enger};
\end{tikzpicture}
\end{document}
